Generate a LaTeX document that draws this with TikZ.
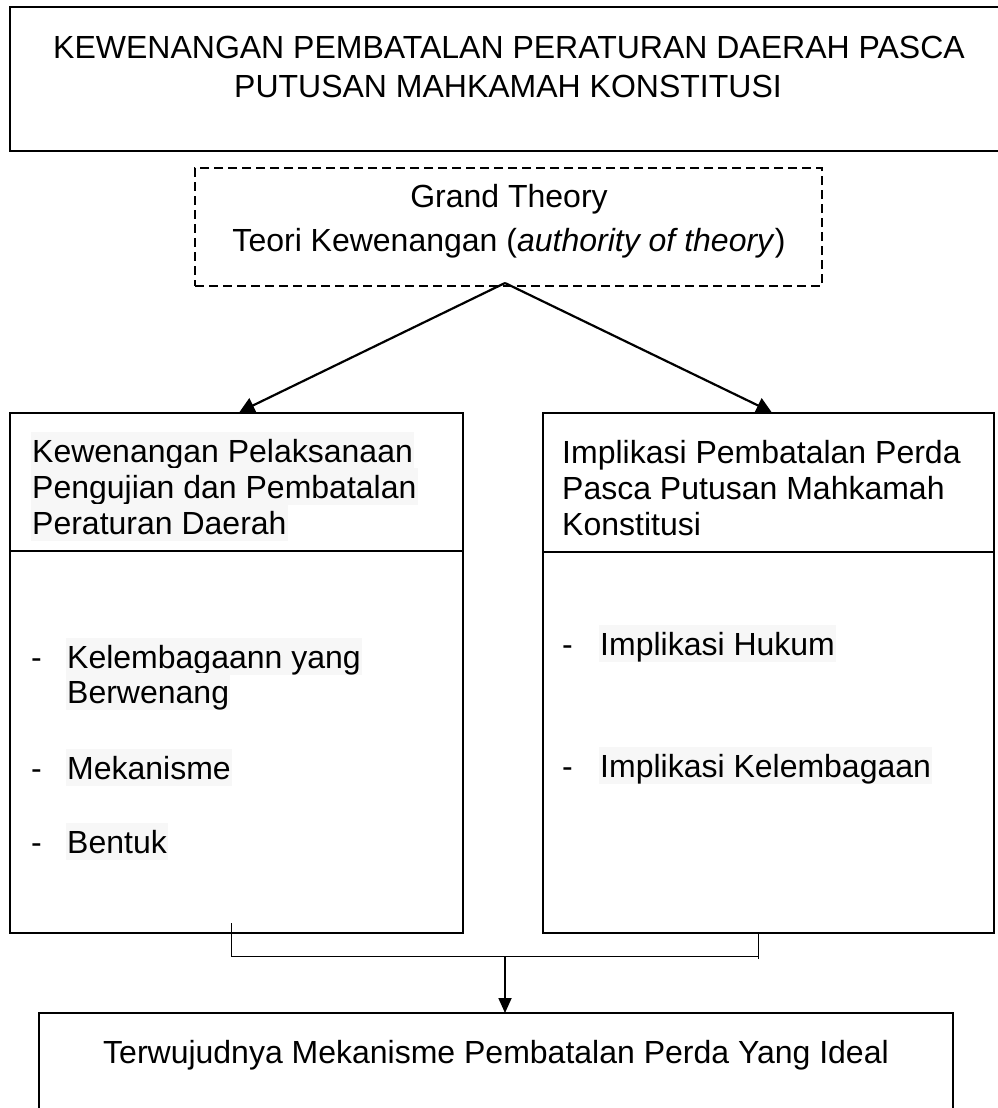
\documentclass[tikz,border=0pt]{standalone}
\usepackage{fontspec}
\setmainfont{Liberation Sans}
\usetikzlibrary{arrows.meta,calc}
\definecolor{shade}{HTML}{F7F7F7}
\begin{document}
\begin{tikzpicture}[x=1pt,y=-1pt,
  txt/.style={font=\fontsize{32}{37}\selectfont, inner sep=0pt, anchor=base west},
  hl/.style={txt, fill=shade, inner xsep=1pt, inner ysep=0pt, text height=30pt, text depth=7pt},
  ctr/.style={font=\fontsize{32}{37}\selectfont, inner sep=0pt, anchor=base},
  frame/.style={draw, line width=2pt, inner sep=0pt},
  divider/.style={line width=1.4pt},
  arr/.style={line width=2.2pt, -{Triangle[length=15pt,width=16pt]}},
  thinline/.style={line width=1pt}
]
\useasboundingbox (0,0) rectangle (998,1108);
\fill[white] (0,0) rectangle (998,1108);

% top title box (open on the right)
\draw[line width=2.3pt] (998,7) -- (10,7) -- (10,151) -- (998,151);
\node[ctr] (title1) at (509,59) {KEWENANGAN PEMBATALAN PERATURAN DAERAH PASCA};
\node[ctr] (title2) at (508,97) {PUTUSAN MAHKAMAH KONSTITUSI};

% grand theory (dashed)
\node[frame, dash pattern=on 9pt off 5pt, minimum width=627pt, minimum height=118pt] (gt) at (508.5,227) {};
\node[ctr] (gt1) at (509,207) {Grand Theory};
\node[ctr] (gt2) at (509,251) {Teori Kewenangan (\textit{authority of theory})};

% left and right boxes
\node[frame, minimum width=453pt, minimum height=520pt] (lb) at (236.5,673) {};
\node[frame, minimum width=451pt, minimum height=520pt] (rb) at (768.5,673) {};
\coordinate (lbdiv) at (0,551);
\coordinate (rbdiv) at (0,552);
\draw[divider] (lb.west |- lbdiv) -- (lb.east |- lbdiv);
\draw[divider] (rb.west |- rbdiv) -- (rb.east |- rbdiv);

% left header
\node[hl] (lh1) at (31,462) {Kewenangan Pelaksanaan};
\node[hl] (lh2) at (31,498) {Pengujian dan Pembatalan};
\node[hl] (lh3) at (31,534) {Peraturan Daerah};
% right header
\node[txt] (rh1) at (562,463) {Implikasi Pembatalan Perda};
\node[txt] (rh2) at (562,499) {Pasca Putusan Mahkamah};
\node[txt] (rh3) at (562,535) {Konstitusi};

% left list
\node[txt] (ld1) at (31,668) {-};
\node[hl] (l1a) at (66,668) {Kelembagaann yang};
\node[hl] (l1b) at (66,703) {Berwenang};
\node[txt] (ld2) at (31,779) {-};
\node[hl] (l2) at (66,779) {Mekanisme};
\node[txt] (ld3) at (31,853) {-};
\node[hl] (l3) at (66,853) {Bentuk};
% right list
\node[txt] (rd1) at (562,655) {-};
\node[hl] (r1) at (599,655) {Implikasi Hukum};
\node[txt] (rd2) at (562,777) {-};
\node[hl] (r2) at (599,777) {Implikasi Kelembagaan};

% arrows from grand theory
\coordinate (apex) at (505,283);
\draw[arr] (apex) -- ($(lb.north)+(3,0)$);
\draw[arr] (apex) -- ($(rb.north)+(3,0)$);

% bottom connector
\coordinate (lc) at (231,923);
\coordinate (jl) at (231,956);
\coordinate (jr) at (758,956);
\coordinate (jm) at (505,956);
\coordinate (rce) at (758,959);
\draw[thinline] (lc) -- (jl) -- (jr);
\draw[thinline] (rb.south -| jr) -- (rce);

% bottom box (open at the bottom)
\coordinate (bbtop) at (505,1013);
\draw[line width=2.2pt] (39,1108) -- (39,1013) -- (953,1013) -- (953,1108);
\draw[line width=1.8pt, -{Triangle[length=15pt,width=13pt]}] (jm) -- (bbtop);
\node[ctr] (bt) at (496,1063) {Terwujudnya Mekanisme Pembatalan Perda Yang Ideal};
\end{tikzpicture}
\end{document}
